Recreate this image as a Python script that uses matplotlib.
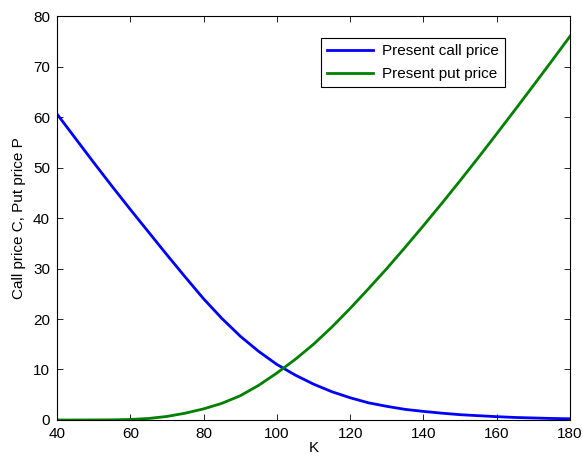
import matplotlib
matplotlib.use('Agg')
import matplotlib.pyplot as plt

plt.rcParams['font.family'] = ['Liberation Sans', 'DejaVu Sans']

# strike prices and option values
K = [40, 45, 50, 55, 60, 65, 70, 75, 80, 85, 90, 95, 100, 105, 110,
     115, 120, 125, 130, 135, 140, 145, 150, 155, 160, 165, 170, 175, 180]
call = [60.6, 55.8, 51.0, 46.3, 41.7, 37.2, 32.7, 28.3, 24.0, 20.1, 16.6, 13.6, 11.0, 8.9, 7.1,
        5.6, 4.4, 3.4, 2.7, 2.1, 1.7, 1.35, 1.05, 0.85, 0.66, 0.5, 0.4, 0.3, 0.24]
put = [0.0, 0.0, 0.01, 0.03, 0.1, 0.3, 0.7, 1.35, 2.2, 3.3, 4.8, 6.85, 9.3, 12.0, 15.0,
       18.4, 22.1, 26.0, 30.0, 34.2, 38.5, 42.9, 47.4, 52.0, 56.7, 61.45, 66.25, 71.1, 76.0]

fig = plt.figure(figsize=(5.83, 4.59), dpi=100)
ax = fig.add_axes([0.0978, 0.085, 0.88, 0.880])

ax.plot(K, call, color=(0, 0, 1), lw=2, label='Present call price')
ax.plot(K, put, color=(0, 0.5, 0), lw=2, label='Present put price')

ax.set_xlim(40, 180)
ax.set_ylim(0, 80)
ax.set_xticks(range(40, 181, 20))
ax.set_yticks(range(0, 81, 10))
ax.tick_params(direction='in', top=True, right=True, labelsize=11, length=4, width=0.6)
ax.tick_params(axis='x', pad=5)
ax.tick_params(axis='y', pad=5)
for s in ax.spines.values():
    s.set_linewidth(0.8)

ax.set_xlabel('K', fontsize=11, labelpad=0)
ax.set_ylabel('Call price C, Put price P', fontsize=11, labelpad=5)

leg = ax.legend(loc='upper right', bbox_to_anchor=(0.873, 0.946), fontsize=11,
                fancybox=False, framealpha=1, edgecolor='black', handlelength=3.0,
                borderpad=0.4, labelspacing=0.6, handletextpad=0.6, borderaxespad=0)
leg.get_frame().set_linewidth(0.8)

fig.savefig('out.png', dpi=100)
